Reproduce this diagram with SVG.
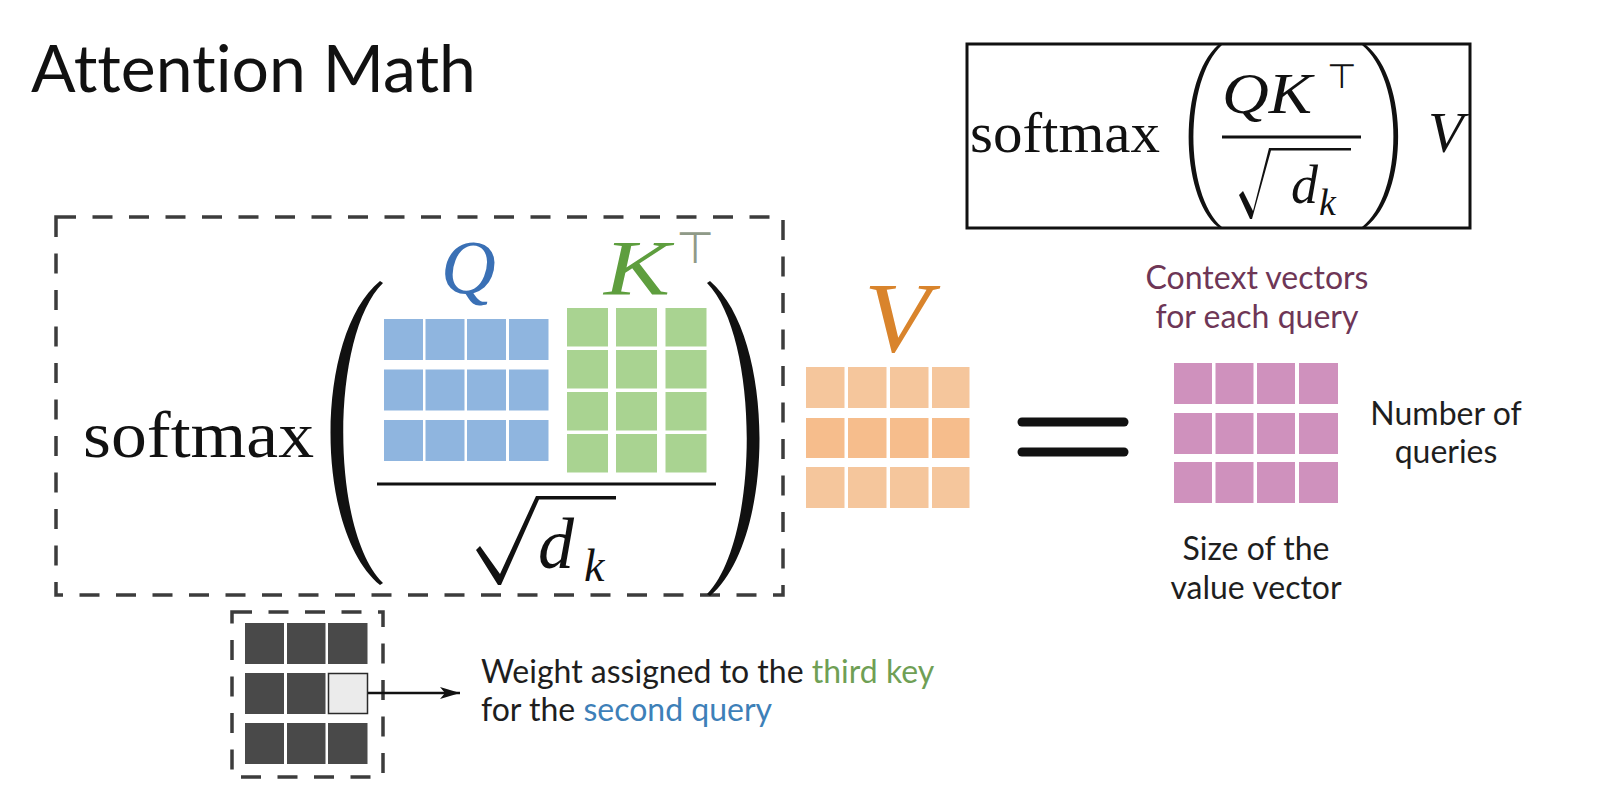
<svg xmlns="http://www.w3.org/2000/svg" width="1597" height="807" viewBox="0 0 1597 807">
<defs>
<style>
.sans{font-family:Lato,"Open Sans","Liberation Sans",sans-serif;fill:#1e1e1e;font-variant-ligatures:none}
.serif{font-family:"Liberation Serif","Times New Roman",serif;fill:#111}
.it{font-family:"Liberation Serif","Times New Roman",serif;font-style:italic}
.sym{font-family:"DejaVu Sans",sans-serif}
.dash{fill:none;stroke:#3c3c3c;stroke-width:3.5;stroke-dasharray:20 16.5}
.q{fill:#8fb5df}
.k{fill:#a9d391}
.v{fill:#f5c69c}
.v2{fill:#f6bd8c}
.p{fill:#cf91bd}
.d{fill:#494949}
.ink{fill:#111}
</style>
<marker id="arr" markerUnits="userSpaceOnUse" markerWidth="20" markerHeight="12" refX="20" refY="6" orient="auto">
<path d="M0,0 L20,6 L0,12 L5,6 Z" fill="#111"/>
</marker>
</defs>
<rect width="1597" height="807" fill="#ffffff"/>

<g id="title">
<text class="sans" x="31" y="92" font-size="66" style="fill:#111">Attention Math</text>
</g>

<g id="formula-box">
<rect x="967" y="44" width="503" height="184" fill="none" stroke="#111" stroke-width="3"/>
<text class="serif" x="970" y="152" font-size="56" textLength="190" lengthAdjust="spacingAndGlyphs">softmax</text>
<path class="ink" d="M1218 45 C1179 80 1179 194 1218 227 L1222 227 C1184 194 1184 80 1222 45 Z"/>
<path class="ink" d="M1366 45 C1409 80 1409 194 1366 227 L1362 227 C1404 194 1404 80 1362 45 Z"/>
<text class="it" x="1222" y="113" font-size="58" fill="#111" textLength="90" lengthAdjust="spacingAndGlyphs">QK</text>
<text class="sym" x="1342" y="88" font-size="34" fill="#111" text-anchor="middle" font-weight="200">⊤</text>
<line x1="1222" y1="137" x2="1361" y2="137" stroke="#111" stroke-width="3"/>
<path class="ink" d="M1239 195 L1243 191 L1253 211 L1269 148 L1351 148 L1351 150.5 L1271 150.5 L1252 219 L1250 219 Z"/>
<text class="it" x="1291" y="203" font-size="54" fill="#111">d</text>
<text class="it" x="1319" y="215" font-size="38" fill="#111">k</text>
<text class="it" x="1428" y="152" font-size="58" fill="#111">V</text>
</g>

<g id="softmax-block">
<rect class="dash" x="56" y="217" width="727" height="378"/>
<text class="serif" x="83" y="457" font-size="66" textLength="231" lengthAdjust="spacingAndGlyphs">softmax</text>
<path class="ink" d="M380 281 C314 335 314 531 380 585 L383 583 C330 531 330 335 383 283 Z"/>
<path class="ink" d="M710 281 C776 337 776 540 710 596 L707 594 C760 540 760 337 707 283 Z"/>
<text class="it" x="441" y="293" font-size="76" fill="#3a70b5">Q</text>
<text class="it" x="604" y="294" font-size="78" fill="#5e9e3e" textLength="66" lengthAdjust="spacingAndGlyphs">K</text>
<text class="sym" x="695" y="263" font-size="44" fill="#8f9a88" text-anchor="middle" font-weight="200">⊤</text>
<g id="Q-matrix">
<rect class="q" x="384" y="319" width="39" height="41"/><rect class="q" x="425.5" y="319" width="39" height="41"/><rect class="q" x="467" y="319" width="39" height="41"/><rect class="q" x="509" y="319" width="39.5" height="41"/>
<rect class="q" x="384" y="369.5" width="39" height="41"/><rect class="q" x="425.5" y="369.5" width="39" height="41"/><rect class="q" x="467" y="369.5" width="39" height="41"/><rect class="q" x="509" y="369.5" width="39.5" height="41"/>
<rect class="q" x="384" y="420" width="39" height="41"/><rect class="q" x="425.5" y="420" width="39" height="41"/><rect class="q" x="467" y="420" width="39" height="41"/><rect class="q" x="509" y="420" width="39.5" height="41"/>
</g>
<g id="K-matrix">
<rect class="k" x="567" y="308" width="41" height="38.5"/><rect class="k" x="616" y="308" width="41" height="38.5"/><rect class="k" x="665.5" y="308" width="41" height="38.5"/>
<rect class="k" x="567" y="350" width="41" height="38.5"/><rect class="k" x="616" y="350" width="41" height="38.5"/><rect class="k" x="665.5" y="350" width="41" height="38.5"/>
<rect class="k" x="567" y="392" width="41" height="38.5"/><rect class="k" x="616" y="392" width="41" height="38.5"/><rect class="k" x="665.5" y="392" width="41" height="38.5"/>
<rect class="k" x="567" y="434" width="41" height="38.5"/><rect class="k" x="616" y="434" width="41" height="38.5"/><rect class="k" x="665.5" y="434" width="41" height="38.5"/>
</g>
<line x1="377" y1="484" x2="716" y2="484" stroke="#111" stroke-width="3"/>
<path class="ink" d="M476 550 L480 546 L500 574 L536 496 L616 496 L616 499.5 L539 499.5 L501 585 L498 585 Z"/>
<text class="it" x="538" y="568" font-size="72" fill="#111">d</text>
<text class="it" x="584" y="581" font-size="46" fill="#111">k</text>
</g>

<g id="V-matrix">
<text class="it" x="864" y="351" font-size="100" fill="#d9842c" textLength="66" lengthAdjust="spacingAndGlyphs">V</text>
<rect class="v" x="806" y="367" width="38.5" height="41"/><rect class="v" x="848" y="367" width="38.5" height="41"/><rect class="v" x="890" y="367" width="38.5" height="41"/><rect class="v" x="932" y="367" width="37.5" height="41"/>
<rect class="v2" x="806" y="418" width="38.5" height="40"/><rect class="v2" x="848" y="418" width="38.5" height="40"/><rect class="v2" x="890" y="418" width="38.5" height="40"/><rect class="v2" x="932" y="418" width="37.5" height="40"/>
<rect class="v" x="806" y="467" width="38.5" height="41"/><rect class="v" x="848" y="467" width="38.5" height="41"/><rect class="v" x="890" y="467" width="38.5" height="41"/><rect class="v" x="932" y="467" width="37.5" height="41"/>
</g>

<g id="equals">
<line x1="1022" y1="422" x2="1124" y2="422" stroke="#111" stroke-width="9" stroke-linecap="round"/>
<line x1="1022" y1="452" x2="1124" y2="452" stroke="#111" stroke-width="9" stroke-linecap="round"/>
</g>

<g id="context-matrix">
<text class="sans" x="1257" y="289" font-size="32" text-anchor="middle" style="fill:#6e3656">Context vectors</text>
<text class="sans" x="1257" y="328" font-size="32" text-anchor="middle" style="fill:#6e3656">for each query</text>
<rect class="p" x="1174" y="363" width="38" height="41"/><rect class="p" x="1215.5" y="363" width="38" height="41"/><rect class="p" x="1257" y="363" width="38" height="41"/><rect class="p" x="1299" y="363" width="39" height="41"/>
<rect class="p" x="1174" y="413" width="38" height="41"/><rect class="p" x="1215.5" y="413" width="38" height="41"/><rect class="p" x="1257" y="413" width="38" height="41"/><rect class="p" x="1299" y="413" width="39" height="41"/>
<rect class="p" x="1174" y="462" width="38" height="41"/><rect class="p" x="1215.5" y="462" width="38" height="41"/><rect class="p" x="1257" y="462" width="38" height="41"/><rect class="p" x="1299" y="462" width="39" height="41"/>
<text class="sans" x="1446" y="425" font-size="32" text-anchor="middle">Number of</text>
<text class="sans" x="1446" y="463" font-size="32" text-anchor="middle">queries</text>
<text class="sans" x="1256" y="560" font-size="32" text-anchor="middle">Size of the</text>
<text class="sans" x="1256" y="599" font-size="32" text-anchor="middle">value vector</text>
</g>

<g id="weights-matrix">
<rect class="dash" x="232" y="612" width="151" height="165"/>
<rect class="d" x="245" y="623" width="39" height="41"/><rect class="d" x="287" y="623" width="38.5" height="41"/><rect class="d" x="328" y="623" width="39.5" height="41"/>
<rect class="d" x="245" y="673" width="39" height="41"/><rect class="d" x="287" y="673" width="38.5" height="41"/><rect x="328.5" y="673.5" width="39" height="40" fill="#ebebeb" stroke="#2a2a2a" stroke-width="1.5"/>
<rect class="d" x="245" y="723" width="39" height="41"/><rect class="d" x="287" y="723" width="38.5" height="41"/><rect class="d" x="328" y="723" width="39.5" height="41"/>
</g>

<g id="weight-label">
<text class="sans" x="481" y="683" font-size="32">Weight assigned to the <tspan style="fill:#6f9f55">third key</tspan></text>
<text class="sans" x="481" y="721" font-size="32">for the <tspan style="fill:#3d80b8">second query</tspan></text>
</g>

<g id="connectors">
<line x1="368" y1="693" x2="460" y2="693" stroke="#111" stroke-width="2.5" marker-end="url(#arr)"/>
</g>
</svg>
